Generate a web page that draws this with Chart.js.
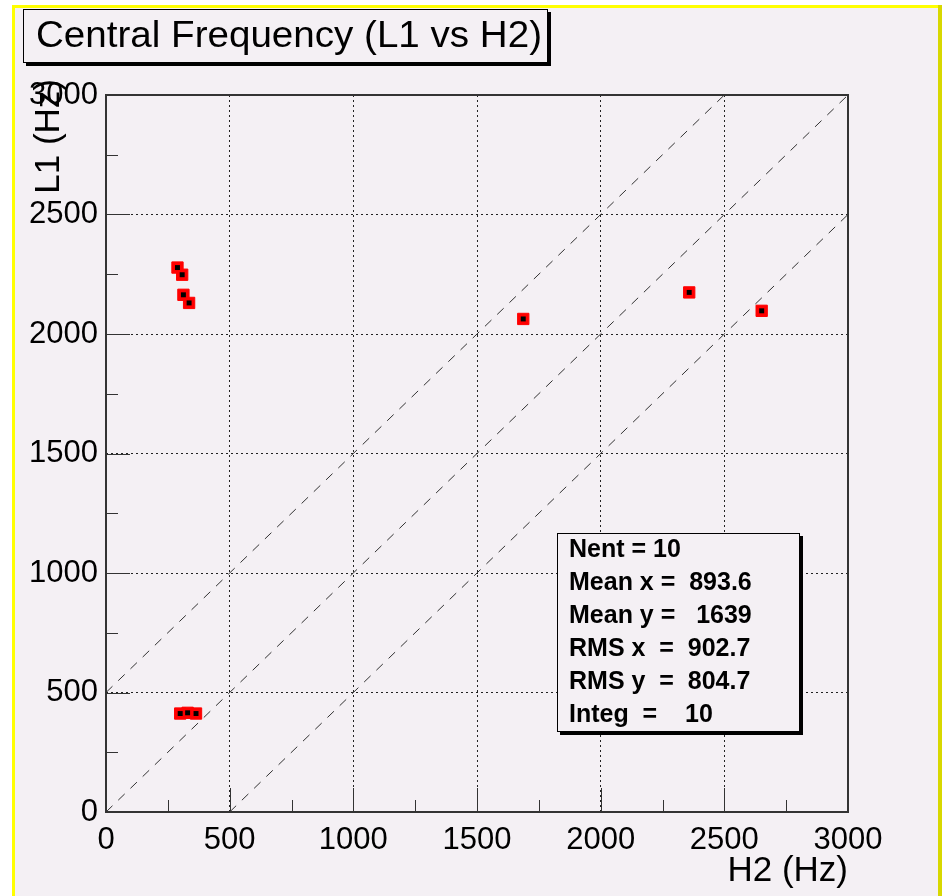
<!DOCTYPE html>
<html>
<head>
<meta charset="utf-8">
<title>Central Frequency (L1 vs H2)</title>
<script src="https://cdn.jsdelivr.net/npm/chart.js@4.4.1/dist/chart.umd.min.js"></script>
<style>
  html, body { margin: 0; padding: 0; background: #ffffff; }
  #wrap { width: 942px; height: 896px; }
</style>
</head>
<body>
<div id="wrap"><canvas id="freqChart" width="942" height="896"></canvas></div>
<script>
// Central frequencies of the 10 entries (Hz)
const h2Values = [289, 308, 313, 336, 300, 330, 364, 1687, 2358, 2651];
const l1Values = [2278, 2248, 2164, 2130, 412, 415, 412, 2063, 2174, 2097];

// Dashed reference lines (L1 = H2 + 500, L1 = H2, L1 = H2 - 500)
const diagX = [[0, 2500], [0, 3000], [500, 3000]];
const diagY = [[500, 3000], [0, 3000], [0, 2500]];

// Axis ticks
const majorTicks = [0, 500, 1000, 1500, 2000, 2500, 3000];
const minorTicks = [250, 750, 1250, 1750, 2250, 2750];

// Stats box lines
const statLines = [
  "Nent = 10",
  "Mean x =  893.6",
  "Mean y =   1639",
  "RMS x  =  902.7",
  "RMS y  =  804.7",
  "Integ  =    10"
];

const chartTitle = "Central Frequency (L1 vs H2)";
const xTitle = "H2 (Hz)";
const yTitle = "L1 (Hz)";

const bgColor = "#f4f0f4";
const fontFamily = "'Liberation Sans', Arial, Helvetica, sans-serif";

Chart.defaults.font.family = fontFamily;
Chart.defaults.color = "#000";

function makePoints(xs, ys) {
  return xs.map((x, i) => ({ x: x, y: ys[i] }));
}

const entryPoints = makePoints(h2Values, l1Values);

const diagDatasets = diagX.map((xs, i) => ({
  label: "diag" + i,
  data: makePoints(xs, diagY[i]),
  showLine: true,
  borderColor: "#333",
  borderWidth: 1,
  borderDash: [9, 8],
  pointRadius: 0,
  fill: false
}));

// Canvas decoration: background, yellow pad border, frame, ticks, boxes, titles
const rootStyle = {
  id: "rootStyle",
  beforeDraw(chart) {
    const ctx = chart.ctx;
    ctx.save();
    ctx.fillStyle = "#ffffff";
    ctx.fillRect(0, 0, chart.width, chart.height);
    ctx.fillStyle = bgColor;
    ctx.fillRect(12, 5, chart.width - 12, chart.height - 5);
    ctx.fillStyle = "#ffff00";
    ctx.fillRect(12, 5, 3, chart.height - 5);
    ctx.fillRect(12, 5, chart.width - 12, 3);
    ctx.fillStyle = "#d8d800";
    ctx.fillRect(chart.width - 4, 5, 4, chart.height - 5);
    ctx.restore();
  },
  afterDraw(chart) {
    const ctx = chart.ctx;
    const area = chart.chartArea;
    const xs = chart.scales.x;
    const ys = chart.scales.y;
    ctx.save();

    // tick marks pointing into the frame
    ctx.strokeStyle = "#333";
    ctx.lineWidth = 1;
    ctx.beginPath();
    majorTicks.forEach((v) => {
      const px = Math.round(xs.getPixelForValue(v)) + 0.5;
      ctx.moveTo(px, area.bottom);
      ctx.lineTo(px, area.bottom - 24);
      const py = Math.round(ys.getPixelForValue(v)) + 0.5;
      ctx.moveTo(area.left, py);
      ctx.lineTo(area.left + 24, py);
    });
    minorTicks.forEach((v) => {
      const px = Math.round(xs.getPixelForValue(v)) + 0.5;
      ctx.moveTo(px, area.bottom);
      ctx.lineTo(px, area.bottom - 12);
      const py = Math.round(ys.getPixelForValue(v)) + 0.5;
      ctx.moveTo(area.left, py);
      ctx.lineTo(area.left + 12, py);
    });
    ctx.stroke();

    // frame
    ctx.strokeStyle = "#333";
    ctx.lineWidth = 2;
    ctx.strokeRect(area.left, area.top, area.right - area.left, area.bottom - area.top);

    // title box with shadow
    ctx.fillStyle = "#000";
    ctx.fillRect(26, 12, 525, 54);
    ctx.fillStyle = bgColor;
    ctx.fillRect(23, 9, 525, 54);
    ctx.strokeStyle = "#000";
    ctx.lineWidth = 1;
    ctx.strokeRect(23.5, 9.5, 524, 53);
    ctx.fillStyle = "#000";
    ctx.font = "36px " + fontFamily;
    ctx.textBaseline = "alphabetic";
    ctx.textAlign = "left";
    const tw = ctx.measureText(chartTitle).width;
    ctx.save();
    ctx.translate(36, 47);
    ctx.scale(506 / tw, 1);
    ctx.fillText(chartTitle, 0, 0);
    ctx.restore();

    // stats box with shadow
    ctx.fillStyle = "#000";
    ctx.fillRect(560, 536, 243, 199);
    ctx.fillStyle = bgColor;
    ctx.fillRect(557, 533, 243, 199);
    ctx.strokeStyle = "#000";
    ctx.strokeRect(557.5, 533.5, 242, 198);
    ctx.fillStyle = "#000";
    ctx.font = "bold 25px " + fontFamily;
    ctx.textBaseline = "middle";
    statLines.forEach((line, i) => {
      ctx.fillText(line, 569, 550 + i * 33);
    });

    // axis titles
    ctx.font = "35px " + fontFamily;
    ctx.textBaseline = "alphabetic";
    ctx.textAlign = "right";
    ctx.fillText(xTitle, area.right, 881);
    ctx.save();
    ctx.translate(59, 79);
    ctx.rotate(-Math.PI / 2);
    ctx.textAlign = "right";
    ctx.fillText(yTitle, 0, 0);
    ctx.restore();

    ctx.restore();
  }
};

const ctx = document.getElementById("freqChart").getContext("2d");
const chart = new Chart(ctx, {
  type: "scatter",
  data: {
    datasets: [
      {
        label: "inner",
        data: entryPoints,
        pointStyle: "rect",
        pointRadius: 3.5,
        backgroundColor: "#000",
        borderColor: "#000",
        borderWidth: 0
      },
      {
        label: "entries",
        data: entryPoints,
        pointStyle: "rect",
        pointRadius: 8,
        backgroundColor: "#ff0000",
        borderColor: "#ff0000",
        borderWidth: 1
      },
      ...diagDatasets
    ]
  },
  options: {
    responsive: false,
    devicePixelRatio: 1,
    animation: false,
    events: [],
    layout: { padding: { left: 0, top: 95, right: 94, bottom: 0 } },
    plugins: {
      legend: { display: false },
      tooltip: { enabled: false },
      title: { display: false }
    },
    scales: {
      x: {
        type: "linear",
        position: "bottom",
        min: 0,
        max: 3000,
        ticks: {
          stepSize: 500,
          autoSkip: false,
          maxRotation: 0,
          padding: 10,
          color: "#000",
          font: { size: 31 },
          callback: (v) => String(v)
        },
        grid: { color: "#222", lineWidth: 1, drawTicks: false },
        border: { display: false, dash: [2, 3] },
        afterFit: (scale) => { scale.height = 84; }
      },
      y: {
        type: "linear",
        position: "left",
        min: 0,
        max: 3000,
        ticks: {
          stepSize: 500,
          autoSkip: false,
          padding: 8,
          color: "#000",
          font: { size: 31 },
          callback: (v) => String(v)
        },
        grid: { color: "#222", lineWidth: 1, drawTicks: false },
        border: { display: false, dash: [2, 3] },
        afterFit: (scale) => { scale.width = 106; }
      }
    }
  },
  plugins: [rootStyle]
});
</script>
</body>
</html>
